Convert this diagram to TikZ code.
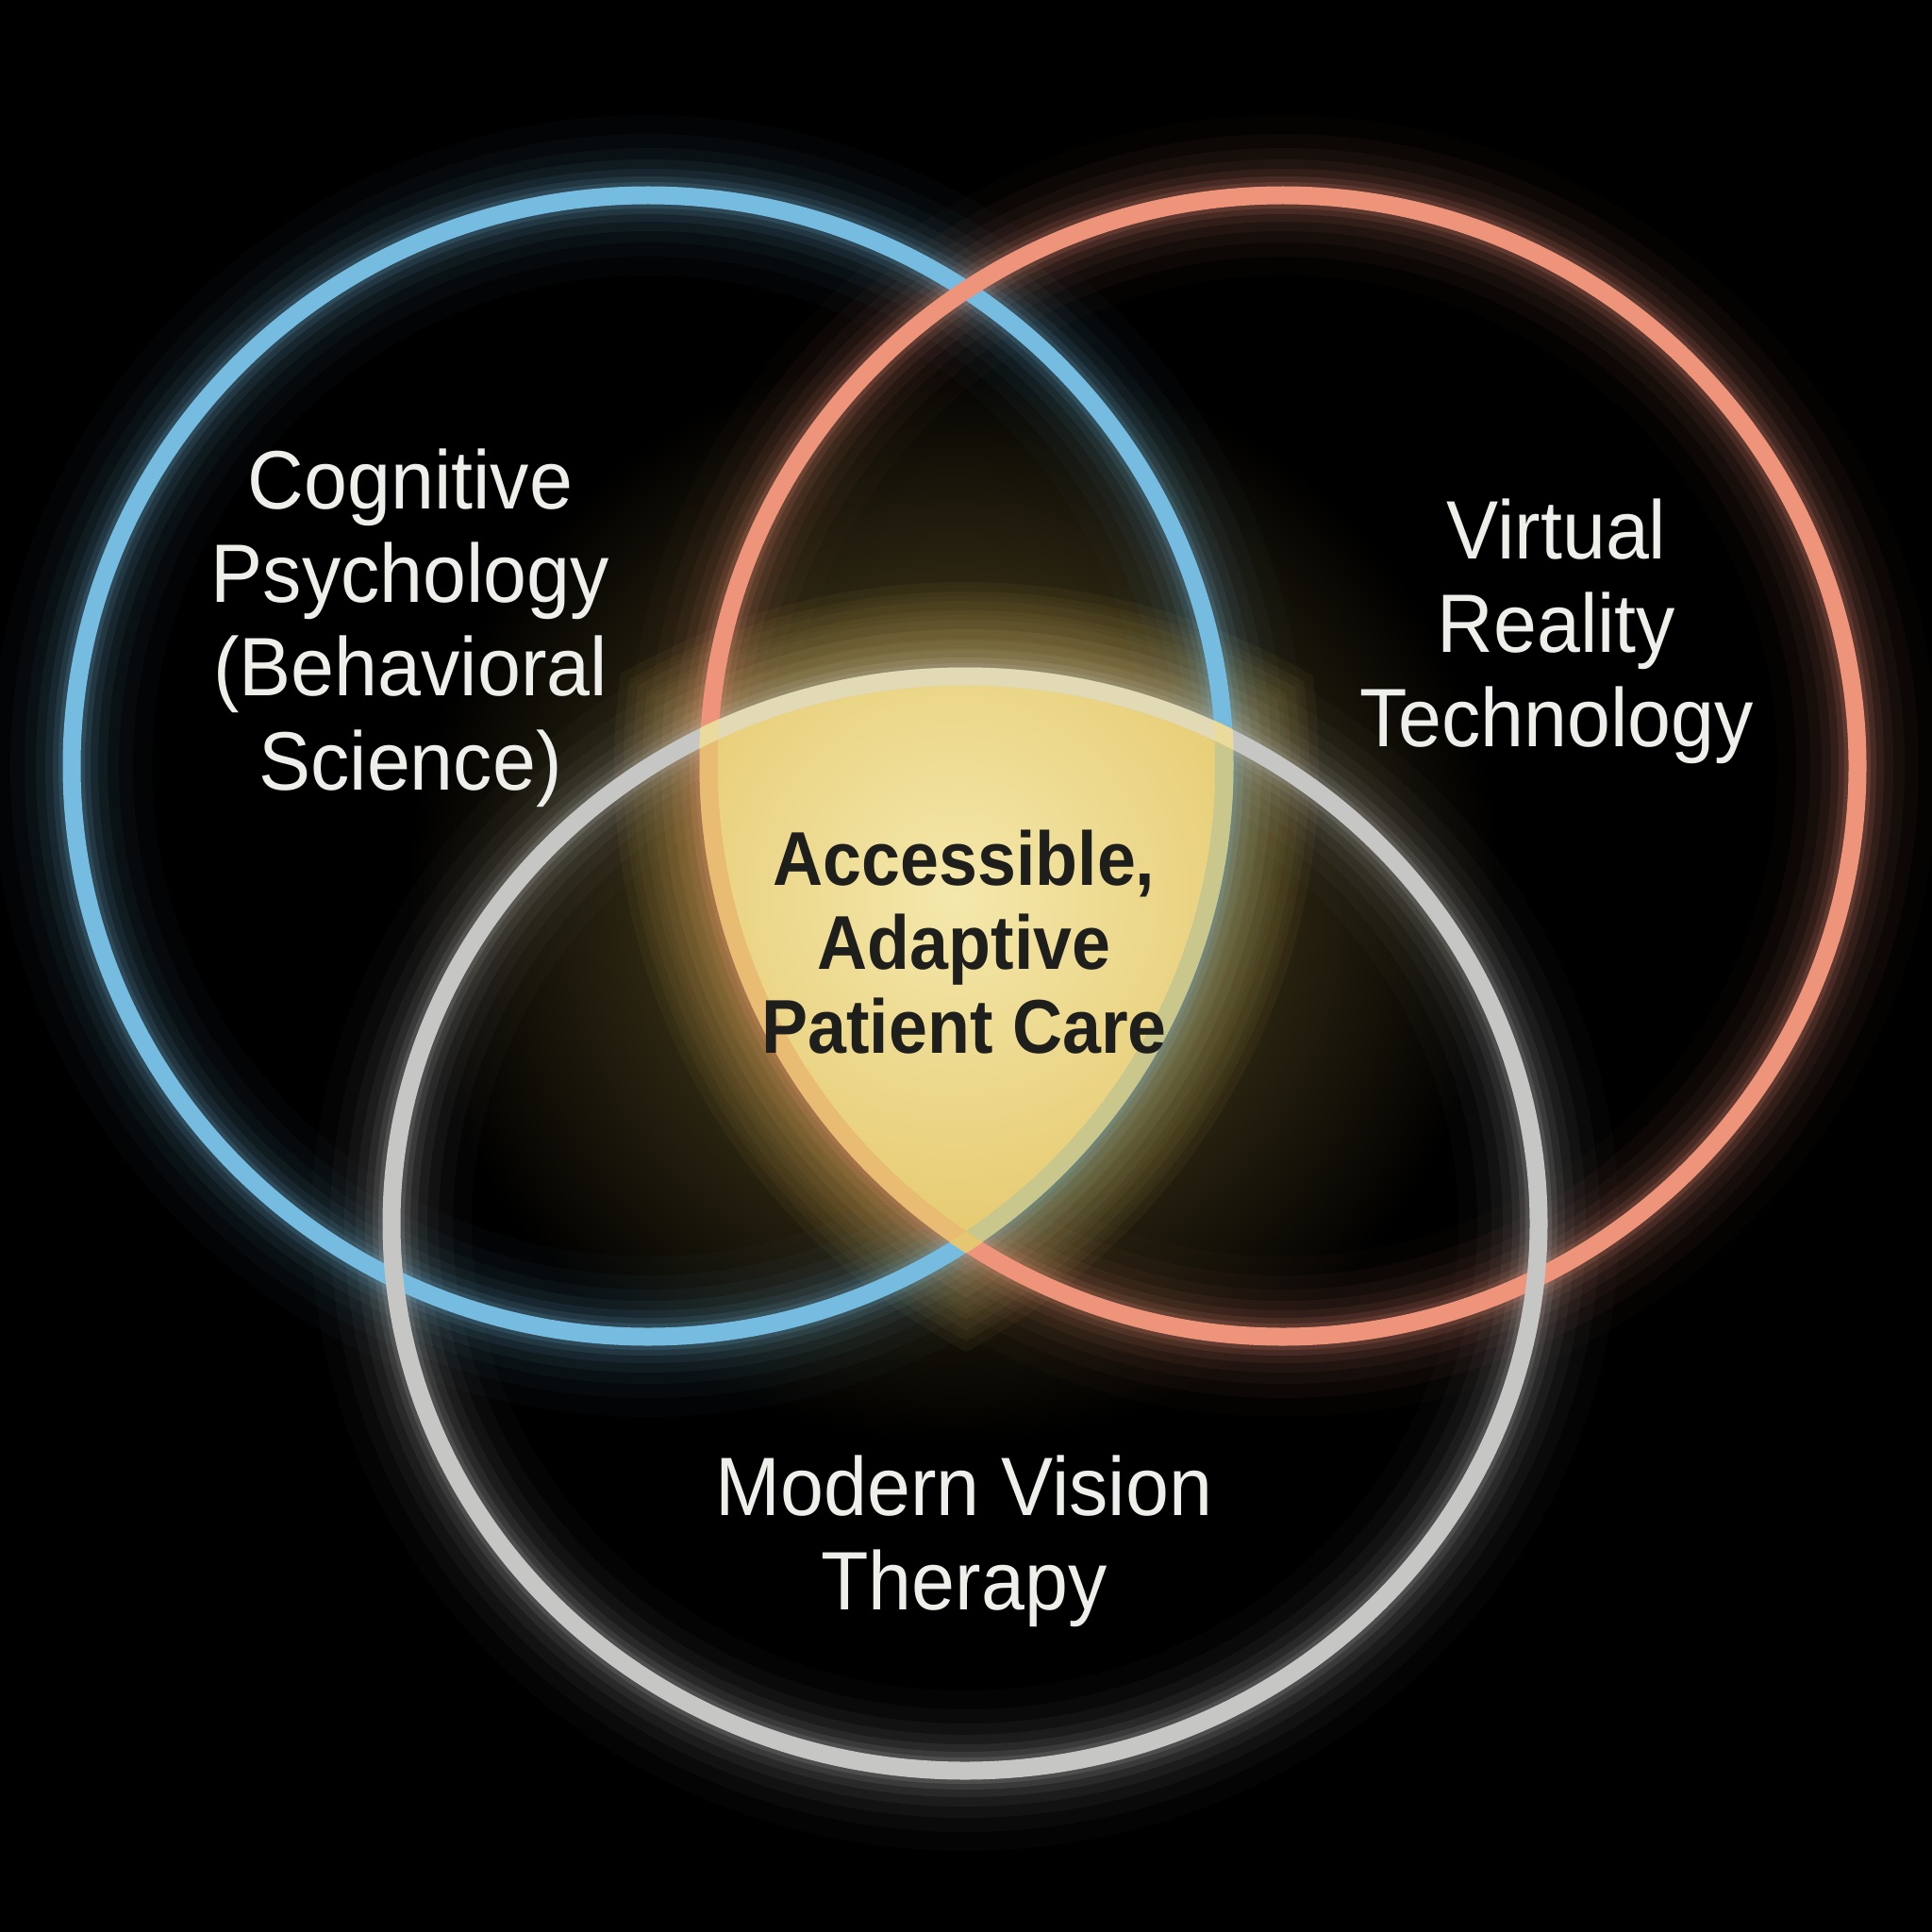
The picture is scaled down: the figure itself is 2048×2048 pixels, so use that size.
\documentclass[tikz,border=0pt]{standalone}
\usepackage{fontspec}
\setmainfont{Liberation Sans}[FakeStretch=0.94]
\newfontfamily\carefont{Liberation Sans}[FakeStretch=0.91]
\usepackage{xcolor}
\usetikzlibrary{positioning}

\definecolor{psyBlue}{RGB}{118,188,224}
\definecolor{vrSalmon}{RGB}{238,148,122}
\definecolor{visionGrey}{RGB}{198,198,196}
\definecolor{careCream}{RGB}{244,232,172}
\definecolor{careGold}{RGB}{224,190,88}
\definecolor{labelWhite}{RGB}{238,238,234}
\definecolor{careInk}{RGB}{30,30,28}

% ring outlines, shared by clips and strokes
\def\psyRing{(psyCentre) circle [x radius=611, y radius=605]}
\def\vrRing{(vrCentre) circle [x radius=609, y radius=605]}
\def\visionRing{(visionCentre) circle [x radius=608, y radius=580]}

\begin{document}
\begin{tikzpicture}[
    x=0.1mm,
    y=-0.1mm,
    ring/.style={
        line width=1.9mm
    },
    areaLabel/.style={
        text=labelWhite,
        align=center,
        anchor=base,
        inner sep=0pt,
        font=\fontsize{25pt}{28.2pt}\selectfont
    },
    careLabel/.style={
        text=careInk,
        align=center,
        anchor=base,
        inner sep=0pt,
        font=\carefont\bfseries\fontsize{23pt}{25.2pt}\selectfont
    }
]

% Background
\fill[black] (0,0) rectangle (2048,2048);
\useasboundingbox (0,0) rectangle (2048,2048);

\coordinate (psyCentre) at (687,812);
\coordinate (vrCentre) at (1360,812);
\coordinate (visionCentre) at (1023,1297);
\coordinate (careCentre) at (1012,950);

% Soft light round the shared centre
\shade[inner color=careGold!45!black, outer color=black] (careCentre) circle [radius=580];
\foreach \d in {100,90,...,10} {
    \begin{scope}
        \clip (psyCentre) circle [x radius=611+\d, y radius=605+\d];
        \clip (vrCentre) circle [x radius=609+\d, y radius=605+\d];
        \clip (visionCentre) circle [x radius=608+\d, y radius=580+\d];
        \fill[careGold, opacity=0.055] (0,0) rectangle (2048,2048);
    \end{scope}
}

% Glow round each ring
\foreach \w/\o in {170/0.025, 130/0.035, 100/0.045, 76/0.06, 56/0.08, 40/0.11, 28/0.15} {
    \draw[line width=\w*0.1mm, psyBlue, opacity=\o] \psyRing;
    \draw[line width=\w*0.1mm, vrSalmon, opacity=\o] \vrRing;
    \draw[line width=\w*0.1mm, visionGrey, opacity=\o] \visionRing;
}

% Shared centre
\begin{scope}
    \clip \psyRing;
    \clip \vrRing;
    \clip \visionRing;
    \shade[inner color=careCream, outer color=careGold] (careCentre) circle [radius=520];
\end{scope}

% Rings
\draw[ring, psyBlue] \psyRing;
\draw[ring, vrSalmon] \vrRing;
\draw[ring, visionGrey] \visionRing;

% Ring parts that bound the centre, tinted by it
\begin{scope}
    \clip (psyCentre) circle [x radius=621, y radius=615];
    \clip (vrCentre) circle [x radius=619, y radius=615];
    \clip (visionCentre) circle [x radius=618, y radius=590];
    \draw[ring, careGold!70!careCream, opacity=0.75] \psyRing;
    \draw[ring, careGold!70!careCream, opacity=0.75] \vrRing;
    \draw[ring, careCream, opacity=0.6] \visionRing;
\end{scope}

% Labels (placed at the baseline of their last line)
\node[areaLabel] (psyText) at (435,837) {Cognitive\\Psychology\\(Behavioral\\Science)};
\node[areaLabel] (vrText) at (1650,791) {Virtual\\Reality\\Technology};
\node[areaLabel] (visionText) at (1022,1706) {Modern Vision\\Therapy};
\node[careLabel] (careText) at (1022,1116) {Accessible,\\Adaptive\\Patient Care};

\end{tikzpicture}
\end{document}
